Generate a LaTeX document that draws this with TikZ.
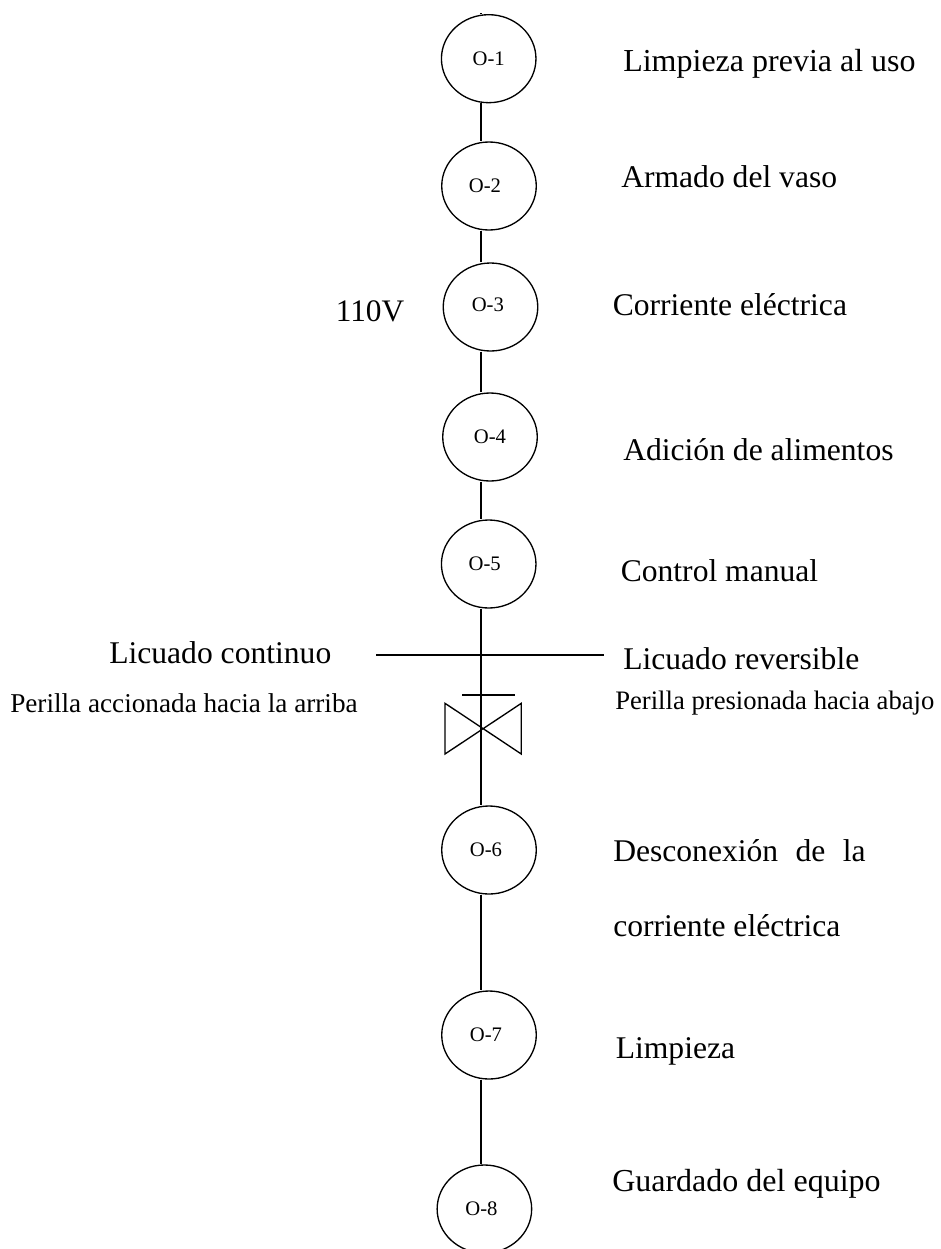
\documentclass[tikz,border=0pt]{standalone}
\usepackage{fontspec}
\setmainfont{Liberation Serif}
\usetikzlibrary{shapes.geometric}
\tikzset{
  x=0.75pt,y=-0.75pt,
  op/.style={draw,ellipse,minimum width=70.9pt,minimum height=66pt,inner sep=0pt,line width=1pt,font=\fontsize{15.5}{18}\selectfont},
  lab/.style={anchor=base west,inner sep=0pt,font=\fontsize{23.7}{28}\selectfont},
  biglab/.style={lab,font=\fontsize{24}{28}\selectfont},
  small/.style={anchor=base west,inner sep=0pt,font=\fontsize{20.2}{24}\selectfont},
  conn/.style={line width=1pt}
}
\begin{document}
\begin{tikzpicture}
\useasboundingbox (0,0) rectangle (940,1249);
\fill[white] (0,0) rectangle (940,1249);
\coordinate (spine) at (481,0);
\node[op] (o1) at (488.7,58.7) {O-1};
\node[op] (o2) at (489,186) {\raisebox{0.8pt}{O-2}\kern6pt};
\node[op] (o3) at (490.5,307) {\raisebox{3pt}{O-3}\kern4pt};
\node[op] (o4) at (490,437) {\raisebox{1pt}{O-4}};
\node[op] (o5) at (488.7,564) {\raisebox{1pt}{O-5}\kern6pt};
\node[op] (o6) at (489,850) {O-6\kern4.5pt};
\node[op] (o7) at (489,1035) {O-7\kern4.5pt};
\node[op] (o8) at (484.4,1209) {O-8\kern4.5pt};
\coordinate (t) at (481,13);
\coordinate (v) at (481,728);
\draw[conn] (t) -- (o1.north -| spine);
\draw[conn] (o1.south -| spine) -- (o2.north -| spine);
\draw[conn] (o2.south -| spine) -- (o3.north -| spine);
\draw[conn] (o3.south -| spine) -- (o4.north -| spine);
\draw[conn] (o4.south -| spine) -- (o5.north -| spine);
\draw[conn] (o5.south -| spine) -- (v);
\draw[conn] (v) -- (o6.north -| spine);
\draw[conn] (o6.south -| spine) -- (o7.north -| spine);
\draw[conn] (o7.south -| spine) -- (o8.north -| spine);
\coordinate (hl) at (376,655);
\coordinate (hr) at (603.5,655);
\draw[conn] (hl) -- (hr);
\coordinate (sl) at (462.3,695);
\coordinate (sr) at (515.3,695);
\draw[conn] (sl) -- (sr);
\draw[conn,line join=miter] (445,703.3) -- (445,754) -- (521.3,703.3) -- (521.3,754) -- cycle;
\node[biglab] (l1) at (623,71) {Limpieza previa al uso};
\node[lab] (l2) at (621,187) {Armado del vaso};
\node[lab] (l3) at (612.5,315) {Corriente eléctrica};
\node[lab] (l4) at (623,460) {Adición de alimentos};
\node[lab] (l5) at (620.5,581) {Control manual};
\node[lab] (l6) at (623,669) {Licuado reversible};
\node[lab] (l7) at (109,663) {Licuado continuo};
\node[lab,font=\fontsize{23.5}{28}\selectfont] (l8) at (335.5,321) {110V};
\node[small,font=\fontsize{20.4}{24}\selectfont] (s1) at (10,712) {Perilla accionada hacia la arriba};
\node[small,font=\fontsize{20}{24}\selectfont] (s2) at (615,709) {Perilla presionada hacia abajo};
\node[lab] (l9) at (613,861) {Desconexión\hspace{0.3em} de\hspace{0.3em} la};
\node[lab] (l10) at (613,936) {corriente eléctrica};
\node[lab] (l11) at (615.5,1058) {Limpieza};
\node[biglab] (l12) at (612,1191) {Guardado del equipo};
\end{tikzpicture}
\end{document}
